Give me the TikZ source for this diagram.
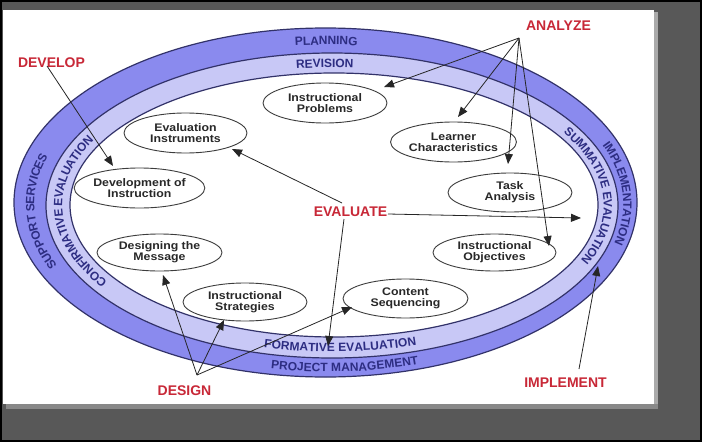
\documentclass[tikz,border=0pt]{standalone}
\usepackage{fontspec}
\setmainfont{Liberation Sans}
\newfontfamily\nodefont[FakeStretch=1.12]{Liberation Sans}
\usetikzlibrary{arrows.meta,decorations.text,shapes.geometric}
\definecolor{bgframe}{RGB}{88,88,88}
\definecolor{shadowgrey}{RGB}{170,170,170}
\definecolor{bandout}{RGB}{138,138,238}
\definecolor{bandin}{RGB}{200,200,246}
\definecolor{bandline}{RGB}{50,50,105}
\definecolor{bandtext}{RGB}{45,45,130}
\definecolor{phasered}{RGB}{200,40,55}
\definecolor{nodeline}{RGB}{60,60,60}
\definecolor{nodetext}{RGB}{40,40,40}
\newcommand\bandfont{\color{bandtext}\bfseries\fontsize{12}{12}\selectfont}
\tikzset{
  stage/.style={ellipse, draw=nodeline, line width=0.9pt, fill=white, inner sep=0pt,
    align=center, text=nodetext, font=\nodefont\bfseries\fontsize{11}{11}\selectfont},
  phase/.style={text=phasered, font=\bfseries\fontsize{14}{14}\selectfont, inner sep=1pt},
  link/.style={draw=black!85, line width=0.8pt, -{Triangle[length=10pt,width=8pt]}},
  bandring/.style={draw=bandline, line width=1.2pt},
}
\begin{document}
\begin{tikzpicture}[x=1pt,y=1pt]
\useasboundingbox (0,0) rectangle (702,-442);
% frame
\fill[bgframe] (0,0) rectangle (702,-442);
\draw[black, line width=2pt] (1,-1) rectangle (701,-441);
\fill[shadowgrey] (654,-12) rectangle (658,-406);
\fill[shadowgrey!80!black] (6,-404) rectangle (658,-409);
\fill[white] (3,-10) rectangle (654,-404);
% bands
\fill[bandout] (325.5,-202.5) ellipse[x radius=311.5pt, y radius=174.5pt];
\draw[bandring] (325.5,-202.5) ellipse[x radius=311.5pt, y radius=174.5pt];
\fill[bandin] (332,-205.5) ellipse[x radius=286pt, y radius=152.5pt];
\draw[bandring] (332,-205.5) ellipse[x radius=286pt, y radius=152.5pt];
\fill[white] (334,-205) ellipse[x radius=264pt, y radius=132pt];
\draw[bandring] (334,-205) ellipse[x radius=264pt, y radius=132pt];
\coordinate (C1) at (328.75,-204);
\coordinate (C2) at (333,-205.25);
% band texts (outer)
\path[decorate, decoration={text along path, text align=center, raise=-4.3pt, text={|\bandfont|PLANNING}}]
  (C1) ++(110.5:298.75pt and 163.5pt) arc[start angle=110.5, end angle=70.5, x radius=298.75pt, y radius=163.5pt];
\path[decorate, decoration={text along path, text align=center, raise=-4.3pt, text={|\bandfont|SUPPORT SERVICES}}]
  (C1) ++(241.8:298.75pt and 163.5pt) arc[start angle=241.8, end angle=121.8, x radius=298.75pt, y radius=163.5pt];
\path[decorate, decoration={text along path, text align=center, raise=-4.3pt, text={|\bandfont|IMPLEMENTATION}}]
  (C1) ++(62.5:298.75pt and 163.5pt) arc[start angle=62.5, end angle=-57.5, x radius=298.75pt, y radius=163.5pt];
\path[decorate, decoration={text along path, text align=center, raise=-4.3pt, text={|\bandfont|PROJECT MANAGEMENT}}]
  (C1) ++(224:298.75pt and 163.5pt) arc[start angle=224, end angle=324, x radius=298.75pt, y radius=163.5pt];
% band texts (inner)
\path[decorate, decoration={text along path, text align=center, raise=-4.3pt, text={|\bandfont|REVISION}}]
  (C2) ++(111.8:275pt and 142.25pt) arc[start angle=111.8, end angle=71.8, x radius=275pt, y radius=142.25pt];
\path[decorate, decoration={text along path, text align=center, raise=-4.3pt, text={|\bandfont|CONFIRMATIVE EVALUATION}}]
  (C2) ++(252:275pt and 142.25pt) arc[start angle=252, end angle=112, x radius=275pt, y radius=142.25pt];
\path[decorate, decoration={text along path, text align=center, raise=-4.3pt, text={|\bandfont|SUMMATIVE EVALUATION}}]
  (C2) ++(62.9:275pt and 142.25pt) arc[start angle=62.9, end angle=-57.1, x radius=275pt, y radius=142.25pt];
\path[decorate, decoration={text along path, text align=center, raise=-4.3pt, text={|\bandfont|FORMATIVE EVALUATION}}]
  (C2) ++(222:275pt and 142.25pt) arc[start angle=222, end angle=322, x radius=275pt, y radius=142.25pt];
% stage nodes
\node[stage, minimum width=124pt, minimum height=40pt] (prob) at (325,-103) {Instructional\\Problems};
\node[stage, minimum width=123pt, minimum height=40pt] (evalins) at (185.5,-133) {Evaluation\\Instruments};
\node[stage, minimum width=125pt, minimum height=40pt] (devins) at (139.5,-188) {Development of\\Instruction};
\node[stage, minimum width=123pt, minimum height=40pt] (learner) at (453.5,-142) {Learner\\Characteristics};
\node[stage, minimum width=124pt, minimum height=39pt] (task) at (510,-192.5) {Task\\Analysis};
\node[stage, minimum width=123pt, minimum height=37pt] (objectives) at (494.5,-252.5) {Instructional\\Objectives};
\node[stage, minimum width=125pt, minimum height=39pt] (content) at (405.5,-298.5) {Content\\Sequencing};
\node[stage, minimum width=125pt, minimum height=37pt] (message) at (159.5,-252.5) {Designing the\\Message};
\node[stage, minimum width=124pt, minimum height=38pt] (strategies) at (245,-302) {Instructional\\Strategies};
% phase labels
\node[phase] (analyze) at (558.5,-26) {ANALYZE};
\node[phase] (develop) at (51.5,-62.5) {DEVELOP};
\node[phase] (evaluate) at (350.5,-212) {EVALUATE};
\node[phase] (design) at (184.5,-391) {DESIGN};
\node[phase] (implement) at (565.5,-383) {IMPLEMENT};
% connector end points
\coordinate (anO) at (519,-38);
\coordinate (anP) at (384,-87);
\coordinate (anL) at (458,-117);
\coordinate (anT) at (508,-164);
\coordinate (anI) at (549,-246);
\coordinate (dvO) at (47,-66);
\coordinate (dvT) at (113,-166);
\coordinate (evU) at (342,-203);
\coordinate (evI) at (232,-149);
\coordinate (evR) at (388,-214);
\coordinate (evS) at (581,-218);
\coordinate (evD) at (344,-219);
\coordinate (evF) at (328,-346);
\coordinate (dsO) at (197,-375);
\coordinate (dsM) at (163,-275);
\coordinate (dsS) at (224,-320);
\coordinate (dsC) at (352,-307);
\coordinate (imO) at (579,-369);
\coordinate (imT) at (598,-266);
% connectors
\draw[link] (anO) -- (anP);
\draw[link] (anO) -- (anL);
\draw[link] (anO) -- (anT);
\draw[link] (anO) -- (anI);
\draw[link] (dvO) -- (dvT);
\draw[link] (evU) -- (evI);
\draw[link] (evR) -- (evS);
\draw[link] (evD) -- (evF);
\draw[link] (dsO) -- (dsM);
\draw[link] (dsO) -- (dsS);
\draw[link] (dsO) -- (dsC);
\draw[link] (imO) -- (imT);
\end{tikzpicture}
\end{document}
